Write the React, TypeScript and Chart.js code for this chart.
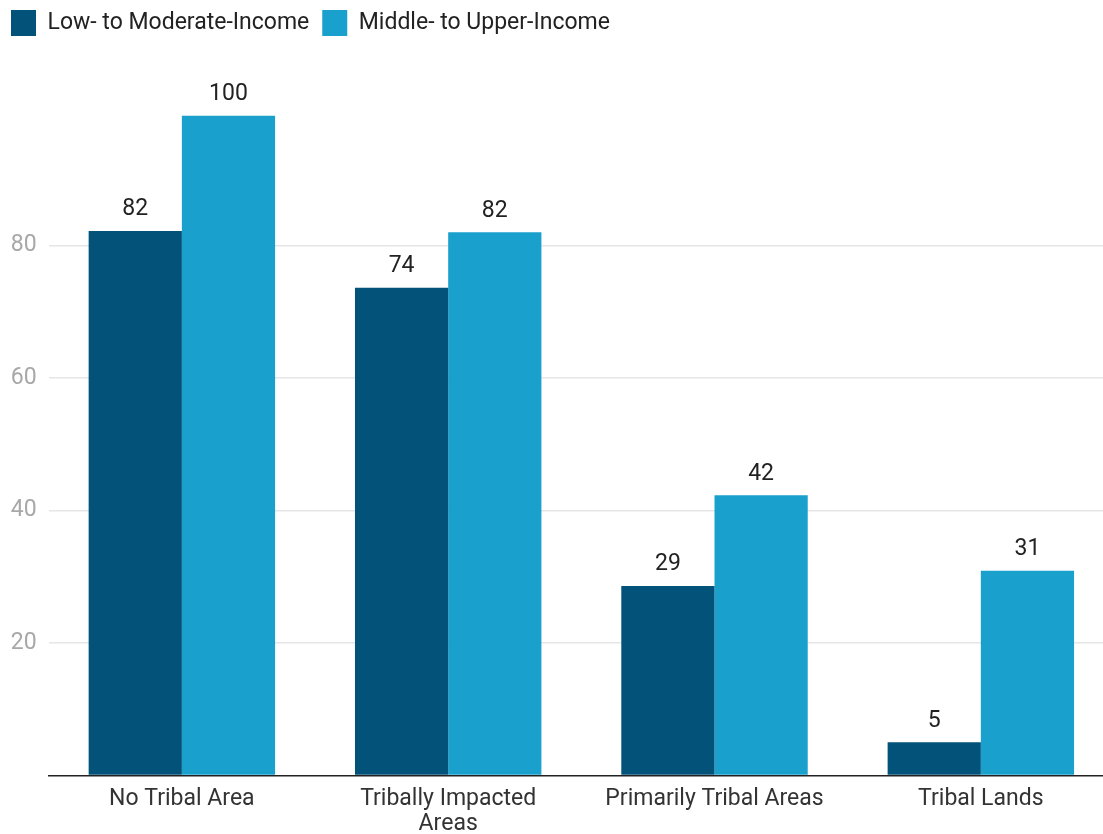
import React, { useEffect, useRef } from "react";
import { Chart, registerables } from "chart.js";

Chart.register(...registerables);

const categories: (string | string[])[] = [
  "No Tribal Area",
  ["Tribally Impacted", "Areas"],
  "Primarily Tribal Areas",
  "Tribal Lands",
];
const lowModIncome = [82.2, 73.6, 28.6, 5.0];
const midUpperIncome = [99.6, 82.0, 42.3, 30.9];
const seriesNames = ["Low- to Moderate-Income", "Middle- to Upper-Income"];
const yTicksShown = [20, 40, 60, 80];

const FONT = "Roboto";

const legendSpacer = {
  id: "legendSpacer",
  beforeInit(chart: any) {
    const legend = chart.legend;
    if (!legend) return;
    const origFit = legend.fit;
    legend.fit = function () {
      origFit.call(this);
      this.height += 67;
    };
  },
};

const valueLabels = {
  id: "valueLabels",
  afterDatasetsDraw(chart: any) {
    const ctx = chart.ctx;
    ctx.save();
    ctx.font = `23px ${FONT}`;
    ctx.fillStyle = "#222222";
    ctx.textAlign = "center";
    ctx.textBaseline = "alphabetic";
    chart.data.datasets.forEach((ds: any, i: number) => {
      const meta = chart.getDatasetMeta(i);
      meta.data.forEach((bar: any, j: number) => {
        const v = ds.data[j] as number;
        ctx.fillText(String(Math.round(v)), bar.x, bar.y - 15.5);
      });
    });
    ctx.restore();
  },
};

export default function App() {
  const canvasRef = useRef<HTMLCanvasElement | null>(null);

  useEffect(() => {
    if (!canvasRef.current) return;
    const chart = new Chart(canvasRef.current, {
      type: "bar",
      data: {
        labels: categories as any,
        datasets: [
          {
            label: seriesNames[0],
            data: lowModIncome,
            backgroundColor: "#02527a",
            borderWidth: 0,
            categoryPercentage: 0.7,
            barPercentage: 1.0,
          },
          {
            label: seriesNames[1],
            data: midUpperIncome,
            backgroundColor: "#1aa0cc",
            borderWidth: 0,
            categoryPercentage: 0.7,
            barPercentage: 1.0,
          },
        ],
      },
      options: {
        animation: false,
        responsive: true,
        maintainAspectRatio: false,
        layout: { padding: { left: -2, top: -3, right: 0, bottom: 0 } },
        plugins: {
          tooltip: { enabled: false },
          legend: {
            display: true,
            position: "top",
            align: "start",
            labels: {
              boxWidth: 25,
              boxHeight: 26,
              padding: 13,
              color: "#222222",
              font: { family: FONT, size: 23 },
            },
          },
        },
        scales: {
          x: {
            type: "category",
            offset: true,
            grid: { display: false, drawTicks: false },
            border: { display: true, color: "#222222", width: 1.5 },
            ticks: {
              color: "#333333",
              font: { family: FONT, size: 23, lineHeight: 1.1 },
              padding: 11,
              maxRotation: 0,
              autoSkip: false,
            },
          },
          y: {
            min: 0,
            max: 100,
            afterFit: (scale: any) => {
              scale.width = 50.7;
            },
            border: { display: false },
            grid: {
              drawTicks: false,
              lineWidth: 1.5,
              color: (c: any) =>
                c.tick && yTicksShown.includes(c.tick.value) ? "#e6e6e6" : "rgba(0,0,0,0)",
            },
            ticks: {
              stepSize: 20,
              padding: 12,
              color: "#a8a8a8",
              font: { family: FONT, size: 23 },
              callback: (v: any) => (yTicksShown.includes(Number(v)) ? String(v) : ""),
            },
          },
        },
      },
      plugins: [legendSpacer, valueLabels],
    });
    return () => chart.destroy();
  }, []);

  return (
    <div
      style={{
        position: "fixed",
        left: 0,
        top: 0,
        width: 1103,
        height: 834,
        overflow: "hidden",
        background: "#ffffff",
      }}
    >
      <div style={{ position: "relative", width: 1114, height: 848 }}>
        <canvas ref={canvasRef} />
      </div>
    </div>
  );
}
